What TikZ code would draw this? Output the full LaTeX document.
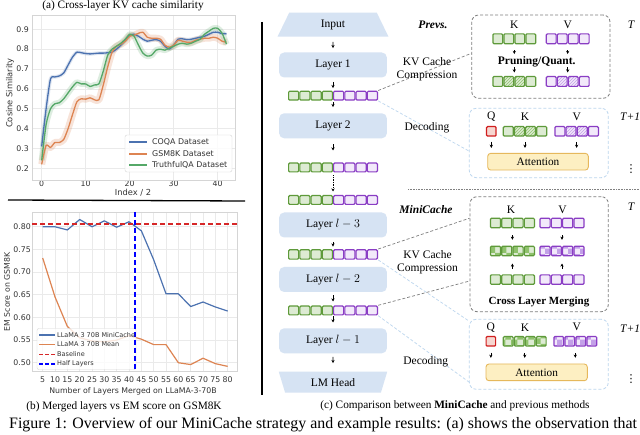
\documentclass[tikz,border=0pt]{standalone}
\usepackage{fontspec}
\setmainfont{Liberation Serif}
\newfontfamily\plotfont{DejaVu Sans}
\usetikzlibrary{shapes.geometric,arrows.meta,patterns}
\definecolor{gborder}{HTML}{5E9A3A}
\definecolor{gfill}{HTML}{DDEBD3}
\definecolor{gchk}{HTML}{8FC26C}
\definecolor{pborder}{HTML}{8A3DC4}
\definecolor{pfill}{HTML}{F2E9FA}
\definecolor{pchk}{HTML}{C3A0E8}
\definecolor{layerfill}{HTML}{D6E3F3}
\definecolor{attfill}{HTML}{FDEFC2}
\definecolor{attborder}{HTML}{E6B85C}
\definecolor{qborder}{HTML}{D01E1E}
\definecolor{qfill}{HTML}{F6D6D0}
\definecolor{dgray}{HTML}{7F7F7F}
\definecolor{dblue}{HTML}{BCD6EE}
\definecolor{sbblue}{HTML}{4C72B0}
\definecolor{sborange}{HTML}{DD8452}
\definecolor{sbgreen}{HTML}{55A868}
\definecolor{gridc}{HTML}{EAEAEA}
\definecolor{framec}{HTML}{D5D5D5}
\definecolor{plottxt}{HTML}{333333}
\definecolor{baser}{HTML}{D62728}
\definecolor{halfb}{HTML}{0000FF}
\newcommand\fsz[2]{\fontsize{#1}{#2}\selectfont}
\newcommand\kvcells[5]{%
  \foreach \s [count=\k from 0] in {#5}{%
    \draw[\s] ({#1+\k*#3+0.6},{#2+0.6}) rectangle ({#1+(\k+1)*#3-0.6},{#2+#4-0.6});}}
\begin{document}
\begin{tikzpicture}[x=1pt,y=-1pt,
  arr/.style={-{Stealth[length=3.2pt,width=3.2pt]}, line width=0.7pt, black},
  layerbox/.style={rectangle, rounded corners=5pt, fill=layerfill, minimum width=107.7pt, minimum height=25pt, inner sep=0pt, font=\fsz{11.5}{14}},
  trap/.style={trapezium, trapezium stretches=true, fill=layerfill, inner sep=0pt, font=\fsz{11.5}{14}},
  rowbox/.style={rectangle, inner sep=0pt},
  lbl/.style={font=\fsz{11.5}{13.8}, inner sep=0pt},
  capt/.style={font=\fsz{11.3}{13.5}, inner sep=0pt},
  kg/.style={draw=gborder, fill=gfill, line width=1.2pt, rounded corners=1pt},
  kp/.style={draw=pborder, fill=pfill, line width=1.2pt, rounded corners=1pt},
  kgh/.style={kg, preaction={fill=gfill}, pattern=north east lines, pattern color=gchk},
  kph/.style={kp, preaction={fill=pfill}, pattern=north east lines, pattern color=pchk},
  kgc/.style={kg, preaction={fill=gfill}, pattern=checkerboard, pattern color=gchk},
  kpc/.style={kp, preaction={fill=pfill}, pattern=checkerboard, pattern color=pchk},
  qcell/.style={rectangle, draw=qborder, fill=qfill, line width=1.2pt, rounded corners=1pt, minimum width=9.5pt, minimum height=9.5pt, inner sep=0pt},
  graybox/.style={rectangle, draw=dgray, line width=0.8pt, dash pattern=on 3pt off 2pt, rounded corners=7pt, inner sep=0pt},
  bluebox/.style={rectangle, draw=dblue, line width=0.8pt, dash pattern=on 3pt off 2pt, rounded corners=7pt, inner sep=0pt},
  attbox/.style={rectangle, draw=attborder, fill=attfill, line width=0.9pt, rounded corners=3pt, inner sep=0pt, font=\fsz{11.3}{13}},
  graylink/.style={draw=dgray, line width=0.7pt, dash pattern=on 3pt off 2pt},
  bluelink/.style={draw=dblue, line width=0.7pt, dash pattern=on 3pt off 2pt},
  tickl/.style={font=\plotfont\fsz{7.8}{9}, text=plottxt, inner sep=0pt},
  axl/.style={font=\plotfont\fsz{8.3}{10}, text=plottxt, inner sep=0pt},
  legtxt/.style={font=\plotfont\fsz{7.9}{9}, text=plottxt, inner sep=0pt, anchor=west},
  legtxtb/.style={font=\plotfont\fsz{6.5}{8}, text=plottxt, inner sep=0pt, anchor=west},
  vdts/.style={font=\plotfont\fsz{11}{13}, inner sep=0pt},
  gridl/.style={draw=gridc, line width=0.7pt},
  framel/.style={draw=framec, line width=0.9pt}
]
\useasboundingbox (0,0) rectangle (640,435);
\fill[white] (0,0) rectangle (640,435);

% ================= plot (a) =================
\node[capt] (capa) at (123,6) {(a) Cross-layer KV cache similarity};
\foreach \v [count=\i] in {0.2,0.3,0.4,0.5,0.6,0.7,0.8,0.9} {
  \draw[gridl] (32,{208.04-198.6*\v}) -- (235,{208.04-198.6*\v});
  \node[tickl, anchor=east] (ya\i) at (29,{208.04-198.6*\v}) {\v};
}
\foreach \t [count=\i] in {0,10,20,30,40} {
  \draw[gridl] ({41.7+4.4*\t},15) -- ({41.7+4.4*\t},180);
  \node[tickl] (xa\i) at ({41.7+4.4*\t},183.5) {\t};
}
\draw[framel] (32,15) rectangle (235,180);
\node[axl, rotate=90] (ylaba) at (10,93) {Cosine Similarity};
\node[axl] (xlaba) at (133,193) {Index / 2};
\begin{scope}[shift={(41.7,208.04)}, x=4.4pt, y=198.6pt]
\def\blued{(0,0.31)(1,0.50)(2,0.65)(3,0.66)(4,0.665)(5,0.68)(6,0.72)(7,0.76)(8,0.785)(9,0.782)(10,0.778)(11,0.776)(12,0.778)(13,0.78)(14,0.78)(15,0.782)(16,0.785)(17,0.80)(18,0.82)(19,0.845)(20,0.87)(21,0.875)(22,0.865)(23,0.85)(24,0.84)(25,0.845)(26,0.848)(27,0.84)(28,0.815)(29,0.80)(30,0.82)(31,0.85)(32,0.852)(33,0.848)(34,0.85)(35,0.855)(36,0.86)(37,0.865)(38,0.875)(39,0.885)(40,0.885)(41,0.878)(42,0.878)}
\def\oranged{(0,0.22)(1,0.315)(2,0.305)(3,0.33)(4,0.33)(5,0.345)(6,0.40)(7,0.47)(8,0.535)(9,0.55)(10,0.548)(11,0.555)(12,0.545)(13,0.545)(14,0.62)(15,0.71)(16,0.785)(17,0.815)(18,0.825)(19,0.84)(20,0.865)(21,0.87)(22,0.88)(23,0.885)(24,0.86)(25,0.855)(26,0.855)(27,0.85)(28,0.82)(29,0.81)(30,0.82)(31,0.845)(32,0.84)(33,0.835)(34,0.835)(35,0.845)(36,0.85)(37,0.855)(38,0.855)(39,0.86)(40,0.855)(41,0.84)(42,0.835)}
\def\greend{(0,0.24)(1,0.42)(2,0.50)(3,0.525)(4,0.53)(5,0.55)(6,0.58)(7,0.61)(8,0.633)(9,0.625)(10,0.625)(11,0.612)(12,0.62)(13,0.625)(14,0.69)(15,0.77)(16,0.80)(17,0.815)(18,0.83)(19,0.85)(20,0.875)(21,0.865)(22,0.82)(23,0.78)(24,0.765)(25,0.77)(26,0.795)(27,0.80)(28,0.795)(29,0.805)(30,0.815)(31,0.825)(32,0.83)(33,0.825)(34,0.83)(35,0.84)(36,0.85)(37,0.875)(38,0.89)(39,0.905)(40,0.905)(41,0.88)(42,0.825)}
\draw[sbblue, line width=3.5pt, opacity=0.18, line join=round] plot[smooth, tension=0.4] coordinates {\blued};
\draw[sborange, line width=7pt, opacity=0.22, line join=round] plot[smooth, tension=0.4] coordinates {\oranged};
\draw[sbgreen, line width=6pt, opacity=0.2, line join=round] plot[smooth, tension=0.4] coordinates {\greend};
\draw[sbblue, line width=1.3pt, line join=round] plot[smooth, tension=0.4] coordinates {\blued};
\draw[sborange, line width=1.3pt, line join=round] plot[smooth, tension=0.4] coordinates {\oranged};
\draw[sbgreen, line width=1.3pt, line join=round] plot[smooth, tension=0.4] coordinates {\greend};
\end{scope}
\node[rectangle, draw=framec, fill=white, fill opacity=0.85, rounded corners=2pt, minimum width=107pt, minimum height=37pt, inner sep=0pt] (lega) at (178.5,153.5) {};
\draw[sbblue, line width=1.4pt] (129,142) -- (147,142);
\draw[sborange, line width=1.4pt] (129,154) -- (147,154);
\draw[sbgreen, line width=1.4pt] (129,165) -- (147,165);
\node[legtxt] (la1) at (152,142) {COQA Dataset};
\node[legtxt] (la2) at (152,154) {GSM8K Dataset};
\node[legtxt] (la3) at (152,165) {TruthfulQA Dataset};

% separator lines
\draw[line width=1.3pt] (8,200) -- (245,201);
\draw[line width=1.2pt] (262,22) -- (262,395);

% ================= plot (b) =================
\foreach \v [count=\i] in {0.50,0.55,0.60,0.65,0.70,0.75,0.80} {
  \draw[gridl] (32,{589.4-453.3*\v}) -- (237,{589.4-453.3*\v});
  \node[tickl, anchor=east] (yb\i) at (31,{589.4-453.3*\v}) {\v};
}
\foreach \L [count=\i] in {5,10,...,80} {
  \draw[gridl] ({30.37+2.4667*\L},212) -- ({30.37+2.4667*\L},371);
  \node[tickl] (xb\i) at ({30.37+2.4667*\L},379.3) {\L};
}
\draw[framel] (32,212) rectangle (237,371);
\node[axl, rotate=90, font=\plotfont\fsz{7.8}{9}] (ylabb) at (7,292) {EM Score on GSM8K};
\node[axl, font=\plotfont\fsz{7.8}{9}] (xlabb) at (133,391.7) {Number of Layers Merged on LLaMA-3-70B};
\begin{scope}[shift={(30.37,589.4)}, x=2.4667pt, y=453.3pt]
\draw[sborange, line width=1.2pt, line join=round] (5,0.731) -- (10,0.645) -- (15,0.58) -- (20,0.555) -- (25,0.548) -- (30,0.546) -- (35,0.55) -- (40,0.56) -- (45,0.552) -- (50,0.54) -- (55,0.54) -- (60,0.50) -- (65,0.496) -- (70,0.51) -- (75,0.498) -- (80,0.492);
\draw[sbblue, line width=1.2pt, line join=round] (5,0.80) -- (10,0.80) -- (15,0.793) -- (20,0.816) -- (25,0.80) -- (30,0.813) -- (35,0.799) -- (40,0.811) -- (45,0.791) -- (50,0.727) -- (55,0.652) -- (60,0.652) -- (65,0.624) -- (70,0.634) -- (75,0.623) -- (80,0.614);
\end{scope}
\draw[baser, line width=1.5pt, dash pattern=on 5pt off 3pt] (32,224) -- (237,224);
\node[rectangle, draw=framec, fill=white, fill opacity=0.8, rounded corners=2pt, minimum width=99pt, minimum height=41pt, inner sep=0pt] (legb) at (86.5,349) {};
\draw[halfb, line width=1.5pt, dash pattern=on 5pt off 3pt] (135,212) -- (135,371);
\draw[sbblue, line width=1.2pt] (39,335) -- (55,335);
\draw[sborange, line width=1.2pt] (39,344.3) -- (55,344.3);
\draw[baser, line width=1.3pt, dash pattern=on 4pt off 2pt] (39,354.3) -- (55,354.3);
\draw[halfb, line width=1.3pt, dash pattern=on 4pt off 2pt] (39,364) -- (55,364);
\node[legtxtb] (lb1) at (57,335) {LLaMA 3 70B MiniCache};
\node[legtxtb] (lb2) at (57,344.3) {LLaMA 3 70B Mean};
\node[legtxtb] (lb3) at (57,354.3) {Baseline};
\node[legtxtb] (lb4) at (57,364) {Half Layers};
\node[capt] (capb) at (124,407) {(b) Merged layers vs EM score on GSM8K};

% ================= diagram (c) =================
\node[trap, minimum width=111pt, minimum height=24pt, trapezium left angle=72, trapezium right angle=72] (inp) at (333,24.7) {Input};
\node[layerbox] (l1) at (333,65) {Layer 1};
\node[layerbox] (l2) at (333,125.8) {Layer 2};
\node[layerbox] (l3) at (333,225) {Layer $l-3$};
\node[layerbox] (l4) at (333,279.5) {Layer $l-2$};
\node[layerbox] (l5) at (333,340.8) {Layer $l-1$};
\node[trap, shape border rotate=180, minimum width=109pt, minimum height=21pt, trapezium left angle=70, trapezium right angle=70] (lm) at (333,382.2) {LM Head};

\node[rowbox, minimum width=90pt, minimum height=10pt] (c1) at (333,95.7) {};
\kvcells{288}{90.7}{11.25}{10}{kg,kg,kg,kg,kp,kp,kp,kp}
\node[rowbox, minimum width=90pt, minimum height=10pt] (c2) at (333,167.5) {};
\kvcells{288}{162.5}{11.25}{10}{kg,kg,kg,kg,kp,kp,kp,kp}
\node[rowbox, minimum width=90pt, minimum height=10pt] (c3) at (333,200) {};
\kvcells{288}{195}{11.25}{10}{kg,kg,kg,kg,kp,kp,kp,kp}
\node[rowbox, minimum width=90pt, minimum height=10.5pt] (c4) at (333,254.5) {};
\kvcells{288}{249.25}{11.25}{10.5}{kg,kg,kg,kg,kp,kp,kp,kp}
\node[rowbox, minimum width=90pt, minimum height=10pt] (c5) at (333,310.5) {};
\kvcells{288}{305.5}{11.25}{10}{kg,kg,kg,kg,kp,kp,kp,kp}

\draw[arr, shorten <=5pt, shorten >=4.2pt] (inp) -- (l1);
\draw[arr, shorten <=4.2pt, shorten >=2.4pt] (l1) -- (c1);
\draw[arr, shorten <=1pt, shorten >=6pt] (c1) -- (l2);
\draw[arr, shorten <=5.7pt, shorten >=11.8pt] (l2) -- (c2);
\draw[arr, densely dotted, shorten <=2.5pt, shorten >=3.3pt] (c2) -- (c3);
\draw[arr, shorten <=4.2pt, shorten >=2.5pt] (l3) -- (c4);
\draw[arr, shorten <=3pt, shorten >=3.8pt] (l4) -- (c5);
\draw[arr, shorten <=0.5pt, shorten >=5.6pt] (c5) -- (l5);
\draw[arr, shorten <=3.4pt, shorten >=8.4pt] (l5) -- (lm);

% ----- Prevs. part -----
\node[graybox, minimum width=138.3pt, minimum height=83.3pt] (pbox) at (540.85,56.65) {};
\node[bluebox, minimum width=139pt, minimum height=69.4pt] (dbox1) at (538.8,143) {};
\draw[graylink] (c1.north east) -- ([yshift=3.3pt]pbox.west);
\draw[bluelink] (c1.south east) -- ([yshift=-8pt]dbox1.west);
\node[lbl, font=\fsz{11.5}{13.8}\bfseries\itshape] (prevs) at (433,25) {Prevs.};
\node[lbl, align=center] (kvc1) at (427,69.3) {KV Cache\\Compression};
\node[lbl] (dec1) at (427,128) {Decoding};
\node[lbl] (pK) at (514.3,25) {K};
\node[lbl] (pV) at (567.7,25) {V};
\node[rowbox, minimum width=44pt, minimum height=11pt] (pk1) at (514.3,38.8) {};
\kvcells{492.3}{33.3}{11}{11}{kg,kg,kg,kg}
\node[rowbox, minimum width=44pt, minimum height=11pt] (pv1) at (567.7,38.8) {};
\kvcells{545.7}{33.3}{11}{11}{kp,kp,kp,kp}
\node[lbl, font=\fsz{11.5}{13.8}\bfseries] (prune) at (536.7,61.7) {Pruning/Quant.};
\node[rowbox, minimum width=44pt, minimum height=11pt] (pk2) at (514.3,81.5) {};
\kvcells{492.3}{76}{11}{11}{kg,kgh,kgh,kg}
\node[rowbox, minimum width=44pt, minimum height=11pt] (pv2) at (567.7,81.5) {};
\kvcells{545.7}{76}{11}{11}{kp,kph,kph,kp}
\draw[arr, shorten <=5.7pt, shorten >=2.2pt] (pk1) -- (pk1 |- prune.north);
\draw[arr, shorten <=5.7pt, shorten >=2.2pt] (pv1) -- (pv1 |- prune.north);
\draw[arr, shorten >=3.3pt] (pk2 |- prune.south) -- (pk2);
\draw[arr, shorten >=3.3pt] (pv2 |- prune.south) -- (pv2);
\node[lbl, font=\fsz{11.5}{13.8}\itshape] (tA) at (631,25) {T};

\node[lbl] (dQ1) at (491.3,116.7) {Q};
\node[lbl] (dK1) at (525,116.7) {K};
\node[lbl] (dV1) at (576.7,116.7) {V};
\node[qcell] (q1) at (491.3,131.35) {};
\node[rowbox, minimum width=44.6pt, minimum height=10.7pt] (dk1) at (525,131.35) {};
\kvcells{502.7}{126}{11.15}{10.7}{kg,kgh,kgh,kg}
\node[rowbox, minimum width=44.7pt, minimum height=10.7pt] (dv1) at (576.65,131.35) {};
\kvcells{554.3}{126}{11.175}{10.7}{kp,kph,kph,kp}
\node[attbox, minimum width=100.6pt, minimum height=16.7pt] (att1) at (538,161.7) {Attention};
\draw[arr, shorten <=5pt, shorten >=5pt] (q1) -- (q1 |- att1.north);
\draw[arr, shorten <=5pt, shorten >=5pt] (dk1) -- (dk1 |- att1.north);
\draw[arr, shorten <=5pt, shorten >=5pt] (dv1) -- (dv1 |- att1.north);
\node[lbl, font=\fsz{11.5}{13.8}\itshape, anchor=west] (tB) at (620,116.7) {T+1};
\node[vdts] (vd1) at (631,169) {⋮};

\draw[gray, line width=0.8pt, dash pattern=on 0.8pt off 0.8pt] (408,189) -- (640,189);

% ----- MiniCache part -----
\node[graybox, minimum width=138.3pt, minimum height=115pt] (mbox) at (539.15,254.2) {};
\node[bluebox, minimum width=139pt, minimum height=70pt] (dbox2) at (538.8,354.3) {};
\draw[graylink] (c4.north east) -- ([yshift=36pt]mbox.west);
\draw[graylink] (c5.north east) -- ([yshift=-26.8pt]mbox.west);
\draw[bluelink] (c4.south east) -- ([yshift=33.3pt]dbox2.west);
\draw[bluelink] (c5.south east) -- ([yshift=-27.7pt]dbox2.west);
\node[lbl, font=\fsz{11.5}{13.8}\bfseries\itshape] (mini) at (426,210) {MiniCache};
\node[lbl, align=center] (kvc2) at (427.5,262.3) {KV Cache\\Compression};
\node[lbl] (dec2) at (425.7,361.7) {Decoding};
\node[lbl] (mK) at (511,210) {K};
\node[lbl] (mV) at (562.5,210) {V};
\node[rowbox, minimum width=45.2pt, minimum height=10.6pt] (mk1) at (512.4,223) {};
\kvcells{489.8}{217.7}{11.3}{10.6}{kg,kg,kg,kg}
\node[rowbox, minimum width=45.2pt, minimum height=10.6pt] (mv1) at (562,223) {};
\kvcells{539.4}{217.7}{11.3}{10.6}{kp,kp,kp,kp}
\node[rowbox, minimum width=45.2pt, minimum height=10.6pt] (mk2) at (512.4,251) {};
\kvcells{489.8}{245.7}{11.3}{10.6}{kgc,kgc,kgc,kgc}
\node[rowbox, minimum width=45.2pt, minimum height=10.6pt] (mv2) at (562,251) {};
\kvcells{539.4}{245.7}{11.3}{10.6}{kpc,kpc,kpc,kpc}
\node[rowbox, minimum width=45.2pt, minimum height=10.6pt] (mk3) at (512.4,279.6) {};
\kvcells{489.8}{274.3}{11.3}{10.6}{kg,kg,kg,kg}
\node[rowbox, minimum width=45.2pt, minimum height=10.6pt] (mv3) at (562,279.6) {};
\kvcells{539.4}{274.3}{11.3}{10.6}{kp,kp,kp,kp}
\draw[arr, shorten <=6.7pt, shorten >=5.7pt] (mk1) -- (mk2);
\draw[arr, shorten <=6.7pt, shorten >=5.7pt] (mv1) -- (mv2);
\draw[arr, shorten <=5.3pt, shorten >=7pt] (mk3) -- (mk2);
\draw[arr, shorten <=5.3pt, shorten >=7pt] (mv3) -- (mv2);
\node[lbl, font=\fsz{11}{13}\bfseries] (clm) at (539,301.7) {Cross Layer Merging};
\node[lbl, font=\fsz{11.5}{13.8}\itshape] (tC) at (631,206.7) {T};

\node[lbl] (dQ2) at (490.8,327.3) {Q};
\node[lbl] (dK2) at (525,327.3) {K};
\node[lbl] (dV2) at (576.7,327.3) {V};
\node[qcell] (q2) at (490.85,341.35) {};
\node[rowbox, minimum width=44pt, minimum height=10.7pt] (dk2) at (524.7,341.35) {};
\kvcells{502.7}{336}{11}{10.7}{kgc,kgc,kgc,kgc}
\node[rowbox, minimum width=44pt, minimum height=10.7pt] (dv2) at (575.3,341.35) {};
\kvcells{553.3}{336}{11}{10.7}{kpc,kpc,kpc,kpc}
\node[attbox, minimum width=101.3pt, minimum height=16.7pt] (att2) at (536.65,372.35) {Attention};
\draw[arr, shorten <=6pt, shorten >=5.7pt] (q2) -- (q2 |- att2.north);
\draw[arr, shorten <=6pt, shorten >=5.7pt] (dk2) -- (dk2 |- att2.north);
\draw[arr, shorten <=6pt, shorten >=5.7pt] (dv2) -- (dv2 |- att2.north);
\node[lbl, font=\fsz{11.5}{13.8}\itshape, anchor=west] (tD) at (620,328.3) {T+1};
\node[vdts] (vd2) at (631,379) {⋮};

\node[capt] (capc) at (455,406) {(c) Comparison between \textbf{MiniCache} and previous methods};
\node[font=\fsz{15.9}{18}, inner sep=0pt, anchor=base west] (figcap) at (9,428.5) {Figure 1: Overview of our MiniCache strategy and example results: (a) shows the observation that};
\end{tikzpicture}
\end{document}
